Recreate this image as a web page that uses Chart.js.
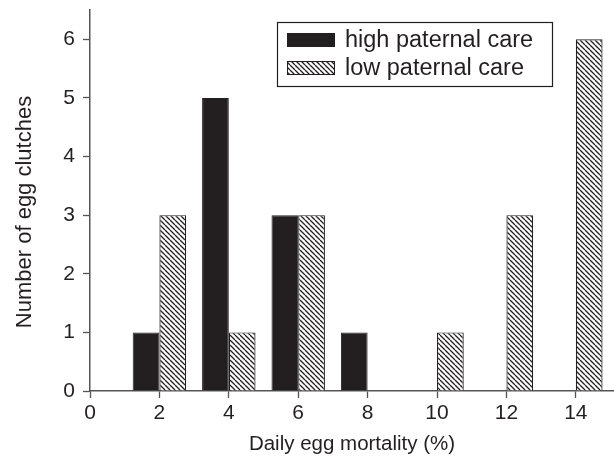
<!DOCTYPE html>
<html>
<head>
<meta charset="utf-8">
<script src="https://cdn.jsdelivr.net/npm/chart.js@4/dist/chart.umd.min.js"></script>
<style>
  html, body { margin: 0; padding: 0; background: #fff; }
  #wrap { width: 614px; height: 460px; }
</style>
</head>
<body>
<div id="wrap"><canvas id="c" width="614" height="460"></canvas></div>
<script>
// Daily egg mortality classes (%) and clutch counts per class
const mortality = [2, 4, 6, 8, 10, 12, 14];
const highCare  = [1, 5, 3, 1, 0, 0, 0];
const lowCare   = [3, 1, 3, 0, 1, 3, 6];
const xTicks = [0, 2, 4, 6, 8, 10, 12, 14];
const yTicks = [0, 1, 2, 3, 4, 5, 6];
const seriesNames = ['high paternal care', 'low paternal care'];
const xTitle = 'Daily egg mortality (%)';
const yTitle = 'Number of egg clutches';

const ink = '#231f20';
const FONT = "'Liberation Sans', Arial, sans-serif";
const FS = 21;

const canvas = document.getElementById('c');
const ctx = canvas.getContext('2d');

// diagonal "\" hatch fill
function makeHatch() {
  const s = 5;
  const t = document.createElement('canvas');
  t.width = s; t.height = s;
  const g = t.getContext('2d');
  g.fillStyle = '#fff';
  g.fillRect(0, 0, s, s);
  g.strokeStyle = ink;
  g.lineWidth = 1.3;
  g.beginPath();
  for (let k = -1; k <= 1; k++) {
    g.moveTo(k * s, 0);
    g.lineTo(k * s + s, s);
  }
  g.stroke();
  return ctx.createPattern(t, 'repeat');
}
const hatch = makeHatch();

const toPoints = (vals) => mortality.map((m, i) => ({ x: m, y: vals[i] === 0 ? null : vals[i] }));

// boxed legend inside the plot area, plus the vertical axis title
const annotations = {
  id: 'annotations',
  afterDraw(chart) {
    const c = chart.ctx;
    const L = 277, T = 22, W = 275, H = 64;
    c.save();
    c.strokeStyle = ink;
    c.lineWidth = 1.2;
    c.fillStyle = '#fff';
    c.fillRect(L, T, W, H);
    c.strokeRect(L + 0.5, T + 0.5, W, H);
    c.font = '23.5px ' + FONT;
    c.textBaseline = 'middle';
    chart.data.datasets.forEach((ds, i) => {
      const y = T + 18 + i * 28;
      c.fillStyle = ds.backgroundColor;
      c.fillRect(287, y - 7, 48, 14);
      c.strokeStyle = ink;
      c.lineWidth = 1;
      c.strokeRect(287.5, y - 6.5, 47, 13);
      c.fillStyle = ink;
      c.fillText(ds.label, 345, y + 1);
    });

    c.translate(25, 212);
    c.rotate(-Math.PI / 2);
    c.textAlign = 'center';
    c.textBaseline = 'middle';
    c.font = '22px ' + FONT;
    c.fillStyle = ink;
    c.fillText(yTitle, 0, 0);
    c.restore();
  }
};

new Chart(ctx, {
  type: 'bar',
  data: {
    datasets: [
      {
        label: seriesNames[0],
        data: toPoints(highCare),
        backgroundColor: ink,
        borderColor: ink,
        borderWidth: 1,
        categoryPercentage: 0.77,
        barPercentage: 1.0
      },
      {
        label: seriesNames[1],
        data: toPoints(lowCare),
        backgroundColor: hatch,
        borderColor: ink,
        borderWidth: 1.2,
        categoryPercentage: 0.77,
        barPercentage: 1.0
      }
    ]
  },
  options: {
    responsive: false,
    animation: false,
    layout: { padding: { top: 10, right: 0, left: 0, bottom: 0 } },
    plugins: { legend: { display: false }, tooltip: { enabled: false } },
    scales: {
      x: {
        type: 'linear',
        offset: false,
        min: 0,
        max: 15.1,
        afterBuildTicks: (s) => { s.ticks = xTicks.map(v => ({ value: v })); },
        afterFit: (s) => { s.height = 69; s.paddingLeft = 0; s.paddingRight = 0; },
        ticks: { color: ink, font: { family: FONT, size: FS }, padding: 3, maxRotation: 0 },
        grid: { offset: false, drawOnChartArea: false, tickLength: 7, tickColor: '#555', tickWidth: 1.3 },
        border: { color: '#555', width: 1.5 },
        title: {
          display: true, text: xTitle,
          color: ink, font: { family: FONT, size: 20.5 }, padding: { top: 0, bottom: 3 }
        }
      },
      y: {
        min: 0,
        max: 6.5,
        afterBuildTicks: (s) => { s.ticks = yTicks.map(v => ({ value: v })); },
        afterFit: (s) => { s.width = 90; s.paddingTop = 0; s.paddingBottom = 0; },
        ticks: { color: ink, font: { family: FONT, size: FS }, padding: 8 },
        grid: { drawOnChartArea: false, tickLength: 7, tickColor: '#555', tickWidth: 1.3 },
        border: { color: '#555', width: 1.5 },
        title: { display: false }
      }
    }
  },
  plugins: [annotations]
});
</script>
</body>
</html>
